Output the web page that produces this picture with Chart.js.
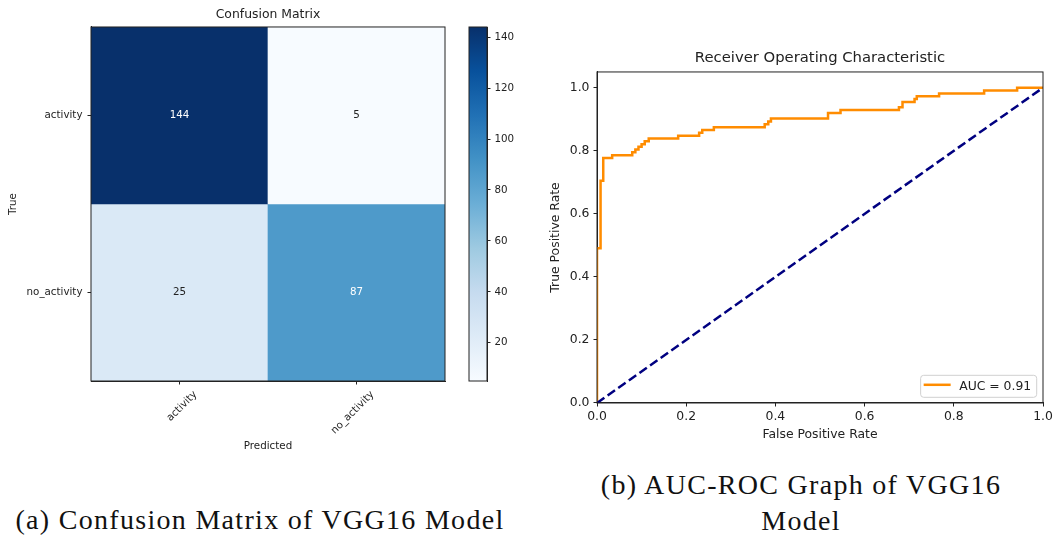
<!DOCTYPE html>
<html>
<head>
<meta charset="utf-8">
<script src="https://cdn.jsdelivr.net/npm/chart.js@4.4.1/dist/chart.umd.min.js"></script>
<style>
  body { margin: 0; background: #fff; }
  #page { position: relative; width: 1056px; height: 541px; overflow: hidden; }
  canvas { position: absolute; }
  .caption {
    position: absolute;
    font-family: 'Liberation Serif', serif;
    font-size: 28px;
    letter-spacing: 1.3px;
    color: #111;
    text-align: center;
    line-height: 36px;
    white-space: nowrap;
  }
</style>
</head>
<body>
<div id="page">
  <canvas id="cmChart" width="455" height="470" style="left:0;top:0"></canvas>
  <canvas id="cbarChart" width="80" height="470" style="left:460px;top:0"></canvas>
  <canvas id="rocChart" width="516" height="420" style="left:540px;top:30px"></canvas>
  <div class="caption" style="left:0;width:520px;top:502px">(a) Confusion Matrix of VGG16 Model</div>
  <div class="caption" style="left:560px;width:482px;top:467px">(b) AUC-ROC Graph of VGG16<br>Model</div>
</div>
<script>
// ========== DATA ==========
const trueLabels = ['activity', 'no_activity'];
const predictedLabels = ['activity', 'no_activity'];
const matrixRows = [
  [144, 5],
  [25, 87]
];
const colorbarTicks = [20, 40, 60, 80, 100, 120, 140];

// ROC corner points
const fprPoints = [0.000, 0.000, 0.008, 0.008, 0.014, 0.014, 0.034, 0.034, 0.079, 0.079,
  0.086, 0.086, 0.093, 0.093, 0.100, 0.100, 0.107, 0.107, 0.116, 0.116,
  0.182, 0.182, 0.229, 0.229, 0.236, 0.236, 0.262, 0.262, 0.376, 0.376,
  0.384, 0.384, 0.390, 0.390, 0.518, 0.518, 0.546, 0.546, 0.677, 0.677,
  0.685, 0.685, 0.712, 0.712, 0.717, 0.717, 0.767, 0.767, 0.868, 0.868,
  0.942, 0.942, 1.000];
const tprPoints = [0.000, 0.491, 0.491, 0.705, 0.705, 0.777, 0.777, 0.786, 0.786, 0.795,
  0.795, 0.804, 0.804, 0.813, 0.813, 0.821, 0.821, 0.830, 0.830, 0.839,
  0.839, 0.848, 0.848, 0.857, 0.857, 0.866, 0.866, 0.875, 0.875, 0.884,
  0.884, 0.893, 0.893, 0.902, 0.902, 0.920, 0.920, 0.929, 0.929, 0.938,
  0.938, 0.955, 0.955, 0.964, 0.964, 0.973, 0.973, 0.982, 0.982, 0.991,
  0.991, 1.000, 1.000];
const chanceX = [0, 1];
const chanceY = [0, 1];
const aucLabel = 'AUC = 0.91';

// ========== HELPERS ==========
Chart.defaults.font.family = "'DejaVu Sans', sans-serif";
Chart.defaults.color = '#222';

const bluesStops = ['#f7fbff', '#deebf7', '#c6dbef', '#9ecae1', '#6baed6',
  '#4292c6', '#2171b5', '#08519c', '#08306b'];

function hexRgb(h) {
  return [1, 3, 5].map(i => parseInt(h.substr(i, 2), 16));
}

function blues(t) {
  t = Math.min(1, Math.max(0, t));
  const pos = t * (bluesStops.length - 1);
  const i = Math.min(Math.floor(pos), bluesStops.length - 2);
  const f = pos - i;
  const a = hexRgb(bluesStops[i]), b = hexRgb(bluesStops[i + 1]);
  return 'rgb(' + a.map((c, k) => Math.round(c + (b[k] - c) * f)).join(',') + ')';
}

const allValues = matrixRows.flat();
const vmin = Math.min(...allValues);
const vmax = Math.max(...allValues);
const thresh = vmax / 2;
const nRows = trueLabels.length;

// box around the plot area, like matplotlib spines
const framePlugin = {
  id: 'frame',
  afterDraw(chart) {
    const { ctx, chartArea: a } = chart;
    ctx.save();
    ctx.strokeStyle = '#222';
    ctx.lineWidth = 1;
    ctx.strokeRect(a.left, a.top, a.right - a.left, a.bottom - a.top);
    ctx.restore();
  }
};

// numbers inside the confusion matrix cells
const cellLabels = {
  id: 'cellLabels',
  afterDatasetsDraw(chart) {
    const { ctx } = chart;
    ctx.save();
    ctx.font = "10.3px 'DejaVu Sans'";
    ctx.textAlign = 'center';
    ctx.textBaseline = 'middle';
    chart.data.datasets.forEach((ds, i) => {
      chart.getDatasetMeta(i).data.forEach((bar, j) => {
        const v = matrixRows[i][j];
        ctx.fillStyle = v > thresh ? '#fff' : '#222';
        ctx.fillText(String(v), bar.x, (bar.y + bar.base) / 2);
      });
    });
    ctx.restore();
  }
};

// ========== CONFUSION MATRIX ==========
const cmChart = new Chart(document.getElementById('cmChart'), {
  type: 'bar',
  data: {
    labels: predictedLabels,
    datasets: trueLabels.map((name, i) => ({
      label: name,
      data: predictedLabels.map(() => [nRows - 1 - i, nRows - i]),
      backgroundColor: matrixRows[i].map(v => blues((v - vmin) / (vmax - vmin))),
      borderWidth: 0,
      grouped: false,
      barPercentage: 1,
      categoryPercentage: 1
    }))
  },
  options: {
    responsive: false,
    animation: false,
    events: [],
    layout: { padding: { left: 0, right: 10, top: 0, bottom: 0 } },
    plugins: {
      legend: { display: false },
      tooltip: { enabled: false },
      title: {
        display: true,
        fullSize: false,
        text: 'Confusion Matrix',
        font: { size: 12.4, weight: 'normal' },
        padding: { top: 7.6, bottom: 4.5 }
      }
    },
    scales: {
      x: {
        grid: { drawOnChartArea: false, offset: false, tickLength: 3.5, color: '#222' },
        border: { color: '#222' },
        ticks: { font: { size: 10.3 }, maxRotation: 45, minRotation: 45, labelOffset: 16, padding: 4 },
        title: { display: true, text: 'Predicted', font: { size: 10.3 }, padding: { top: 0, bottom: 17.8 } },
        afterFit(scale) { scale.height = 89; }
      },
      y: {
        min: 0,
        max: nRows,
        afterBuildTicks(scale) {
          scale.ticks = trueLabels.map((_, i) => ({ value: i + 0.5 }));
        },
        grid: { drawOnChartArea: false, tickLength: 3.5, color: '#222' },
        border: { color: '#222' },
        ticks: {
          font: { size: 10.3 },
          padding: 5,
          callback: v => trueLabels[nRows - 1 - Math.floor(v)]
        },
        title: { display: true, text: 'True', font: { size: 10.3 }, padding: { top: 6.8, bottom: 0 } },
        afterFit(scale) { scale.width = 91; }
      }
    }
  },
  plugins: [cellLabels, framePlugin]
});

// ========== COLORBAR ==========
const cbarChart = new Chart(document.getElementById('cbarChart'), {
  type: 'bar',
  data: {
    labels: [''],
    datasets: [{
      data: [[vmin, vmax]],
      backgroundColor(context) {
        const { chartArea, ctx } = context.chart;
        if (!chartArea) return bluesStops[4];
        const g = ctx.createLinearGradient(0, chartArea.bottom, 0, chartArea.top);
        bluesStops.forEach((c, k) => g.addColorStop(k / (bluesStops.length - 1), c));
        return g;
      },
      borderWidth: 0,
      barPercentage: 1,
      categoryPercentage: 1
    }]
  },
  options: {
    responsive: false,
    animation: false,
    events: [],
    layout: { padding: { left: 9, right: 0, top: 27, bottom: 89 } },
    plugins: { legend: { display: false }, tooltip: { enabled: false } },
    scales: {
      x: { display: false },
      y: {
        position: 'right',
        min: vmin,
        max: vmax,
        afterBuildTicks(scale) {
          scale.ticks = colorbarTicks.map(v => ({ value: v }));
        },
        grid: { drawOnChartArea: false, tickLength: 3.5, color: '#222' },
        border: { color: '#222' },
        ticks: { font: { size: 10.3 }, padding: 4 },
        afterFit(scale) { scale.width = 53; }
      }
    }
  },
  plugins: [framePlugin]
});

// ========== ROC CURVE ==========
// legend box in the lower right corner of the plot
const aucLegend = {
  id: 'aucLegend',
  afterDraw(chart) {
    const { ctx, chartArea: a } = chart;
    const ds = chart.data.datasets[0];
    ctx.save();
    ctx.font = "12.4px 'DejaVu Sans'";
    const tw = ctx.measureText(ds.label).width;
    const w = 38.5 + tw + 5.5, h = 22;
    const x = a.right - 6.3 - w, y = a.bottom - 5.7 - h;
    ctx.beginPath();
    ctx.roundRect(x, y, w, h, 3);
    ctx.fillStyle = 'rgba(255,255,255,0.8)';
    ctx.fill();
    ctx.strokeStyle = '#d0d0d0';
    ctx.lineWidth = 1;
    ctx.stroke();
    ctx.beginPath();
    ctx.moveTo(x + 3, y + 9.5);
    ctx.lineTo(x + 30, y + 9.5);
    ctx.strokeStyle = ds.borderColor;
    ctx.lineWidth = ds.borderWidth;
    ctx.stroke();
    ctx.fillStyle = '#222';
    ctx.textBaseline = 'middle';
    ctx.fillText(ds.label, x + 38.5, y + 11);
    ctx.restore();
  }
};

const rocChart = new Chart(document.getElementById('rocChart'), {
  type: 'scatter',
  data: {
    datasets: [{
      label: aucLabel,
      data: fprPoints.map((x, i) => ({ x, y: tprPoints[i] })),
      showLine: true,
      borderColor: '#ff8c00',
      borderWidth: 2.5,
      pointRadius: 0,
      order: 1
    }, {
      label: 'chance',
      data: chanceX.map((x, i) => ({ x, y: chanceY[i] })),
      showLine: true,
      borderColor: '#000080',
      borderWidth: 2.5,
      borderDash: [9, 4],
      pointRadius: 0,
      order: 0
    }]
  },
  options: {
    responsive: false,
    animation: false,
    events: [],
    layout: { padding: { left: 0, right: 13, top: 0, bottom: 0 } },
    plugins: {
      legend: { display: false },
      tooltip: { enabled: false },
      title: {
        display: true,
        fullSize: false,
        text: 'Receiver Operating Characteristic',
        font: { size: 14.8, weight: 'normal' },
        padding: { top: 19.4, bottom: 4.8 }
      }
    },
    scales: {
      x: {
        type: 'linear',
        min: 0,
        max: 1,
        grid: { drawOnChartArea: false, tickLength: 3.5, color: '#222' },
        border: { color: '#222' },
        ticks: { stepSize: 0.2, font: { size: 12.4 }, padding: 3, callback: v => v.toFixed(1) },
        title: { display: true, text: 'False Positive Rate', font: { size: 12.4 }, padding: { top: 0, bottom: 7.6 } },
        afterFit(scale) { scale.height = 47; }
      },
      y: {
        min: 0,
        max: 1.05,
        grid: { drawOnChartArea: false, tickLength: 3.5, color: '#222' },
        border: { color: '#222' },
        ticks: { stepSize: 0.2, includeBounds: false, font: { size: 12.4 }, padding: 4, callback: v => v.toFixed(1) },
        title: { display: true, text: 'True Positive Rate', font: { size: 12.4 }, padding: { top: 8.6, bottom: 0 } },
        afterFit(scale) { scale.width = 57; }
      }
    }
  },
  plugins: [framePlugin, aucLegend]
});
</script>
</body>
</html>
